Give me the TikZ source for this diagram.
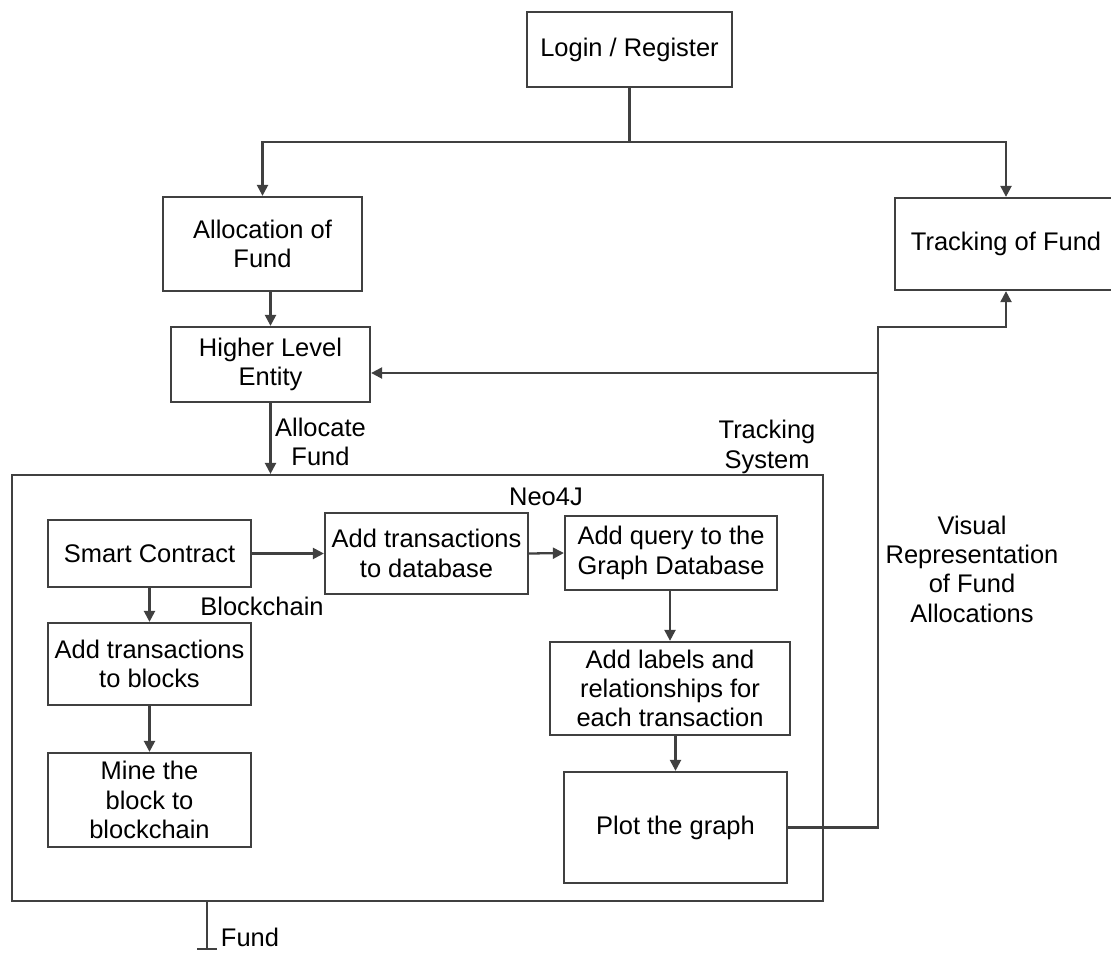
\documentclass[tikz,border=0pt]{standalone}
\usepackage{fontspec}
\setmainfont{Liberation Sans}
\usepackage{tikz}
\usetikzlibrary{arrows.meta, positioning, calc}
\tikzset{
  % --- Luu do ---------------------------------------------
  proc/.style={draw=black!75, line width=1.3pt, fill=white, align=center,
    font=\fontsize{14.5}{16.7}\selectfont, inner sep=2pt},
  sysbox/.style={draw=black!75, line width=1.3pt, fill=none, inner sep=0pt},
  fl/.style={-{Triangle[length=2.2mm, width=2.2mm]}, draw=black!75,
    line width=1.3pt},
  fline/.style={draw=black!75, line width=1.3pt},
  lbl/.style={font=\fontsize{14.5}{16.7}\selectfont, align=center,
    inner sep=2pt}
}

\begin{document}
\begin{tikzpicture}[x=0.02cm, y=-0.02cm]
  \useasboundingbox (0,0) rectangle (1111,953);

  % ---------- Khung he thong theo doi ----------
  \node[sysbox, minimum width=16.22cm, minimum height=8.52cm] (sys)
    at (417.5,688) {};
  \node[lbl] (tsys) at (767,447) {Tracking\\System};
  \node[lbl] (neo) at (546,497) {Neo4J};
  \node[lbl] (bchain) at (262,606) {Blockchain};

  % ---------- Tang tren ----------
  \node[proc, minimum width=4.1cm, minimum height=1.5cm] (login)
    at (629.5,49.5) {Login / Register};
  \node[proc, minimum width=3.98cm, minimum height=1.88cm] (alloc)
    at (262.5,244) {Allocation of\\Fund};
  \node[proc, minimum width=4.44cm, minimum height=1.84cm] (track)
    at (1006,244) {Tracking of Fund};
  \node[proc, minimum width=3.98cm, minimum height=1.5cm] (higher)
    at (270.5,364.5) {Higher Level\\Entity};

  % ---------- Blockchain ----------
  \node[proc, minimum width=4.06cm, minimum height=1.34cm] (smart)
    at (149.5,553.5) {Smart Contract};
  \node[proc, minimum width=4.06cm, minimum height=1.64cm] (blocks)
    at (149.5,664) {Add transactions\\to blocks};
  \node[proc, minimum width=4.06cm, minimum height=1.88cm] (mine)
    at (149.5,800) {Mine the\\block to\\blockchain};

  % ---------- Neo4J ----------
  \node[proc, minimum width=4.06cm, minimum height=1.62cm] (addtx)
    at (426.5,553.5) {Add transactions\\to database};
  \node[proc, minimum width=4.24cm, minimum height=1.48cm] (query)
    at (671,553) {Add query to the\\Graph Database};
  \node[proc, minimum width=4.8cm, minimum height=1.86cm] (labels)
    at (670,688.5) {Add labels and\\relationships for\\each transaction};
  \node[proc, minimum width=4.46cm, minimum height=2.22cm] (plot)
    at (675.5,827.5) {Plot the graph};

  \node[lbl] (visual) at (972,569)
    {Visual\\Representation\\of Fund\\Allocations};

  % ---------- Ket noi ----------
  \coordinate (split) at (629.5,142);
  \coordinate (vj) at (878,327);
  \coordinate (hj) at (878,373);
  \coordinate (fend) at (207,950);

  \draw[fline] (login.south) -- (split);
  \draw[fl] (split) -| (alloc.north);
  \draw[fl] (split) -| (track.north);
  \draw[fl] (alloc.south -| higher.north) -- (higher.north);
  \draw[fl] (higher.south) -- node[lbl, right, pos=0.55] {Allocate\\Fund}
    (higher.south |- sys.north);

  \draw[fl] (smart.east) -- (smart.east -| addtx.west);
  \draw[fl] (addtx.east) -- (query.west);
  \draw[fl] (smart) -- (blocks);
  \draw[fl] (blocks) -- (mine);
  \draw[fl] (query.south -| labels.north) -- (labels.north);
  \draw[fl] (labels.south -| plot.north) -- (plot.north);

  \draw[fl] (plot.east) -- (plot.east -| vj) -- (vj) -| (track.south);
  \draw[fl] (hj) -- (higher.east |- hj);

  \draw[fline, -{Bar[width=4mm]}] (sys.south -| fend) -- (fend);
  \node[lbl] (fund) at (250,937) {Fund};

\end{tikzpicture}
\end{document}
